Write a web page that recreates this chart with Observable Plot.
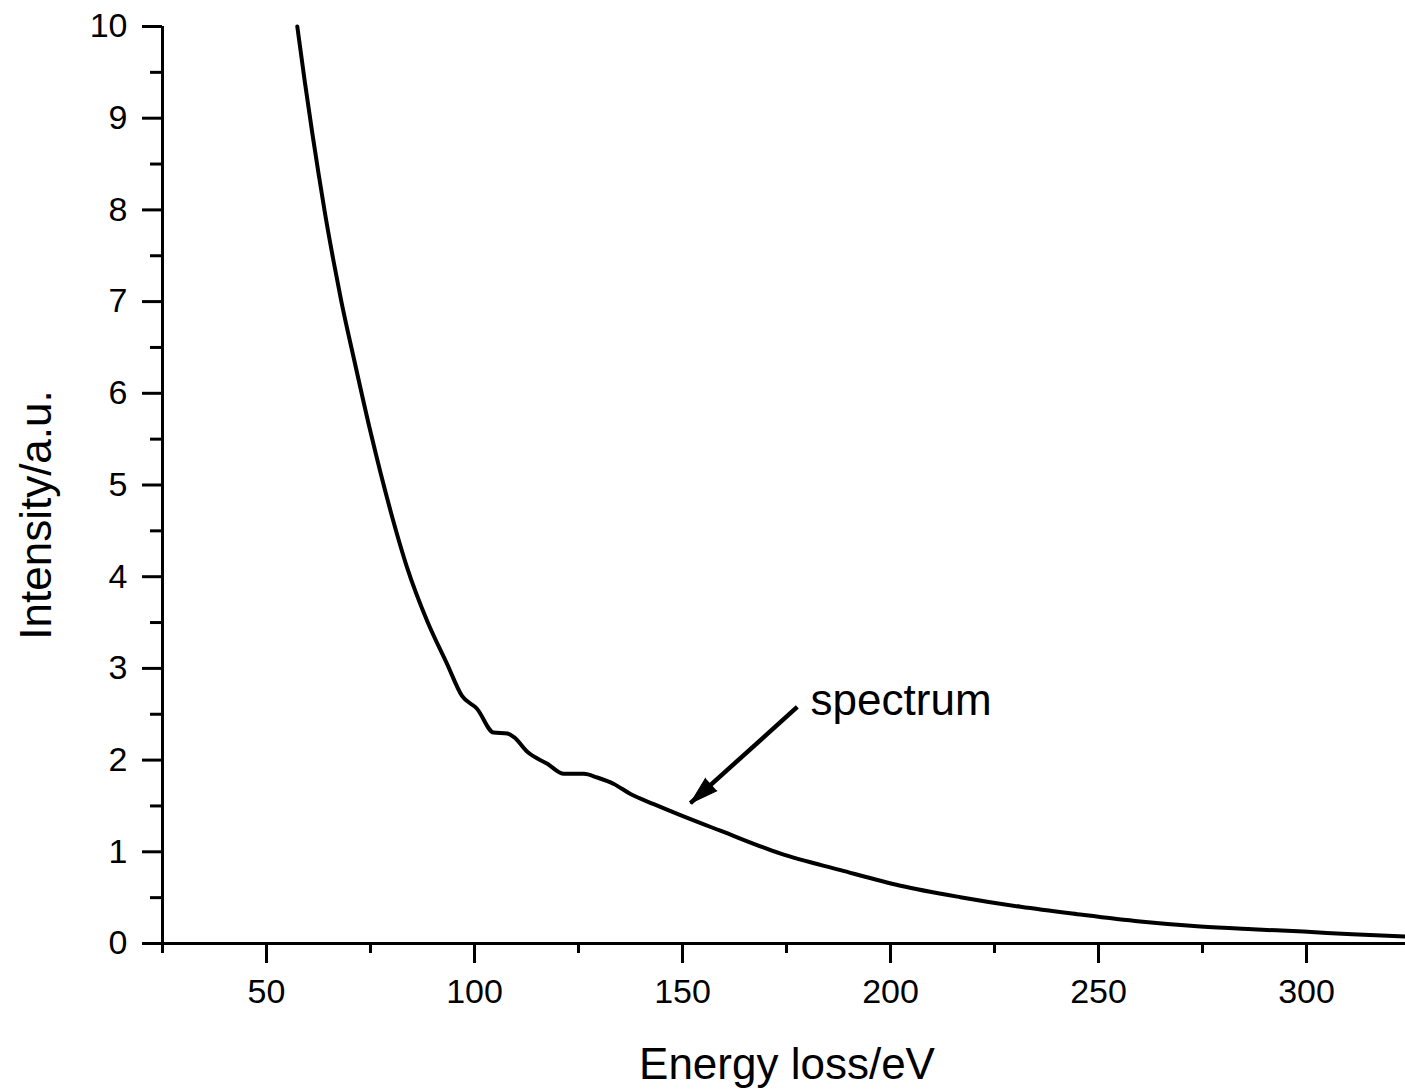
<!DOCTYPE html>
<html>
<head>
<meta charset="utf-8">
<script src="https://cdn.jsdelivr.net/npm/d3@7"></script>
<script src="https://cdn.jsdelivr.net/npm/@observablehq/plot@0.6"></script>
<style>
  html, body { margin: 0; padding: 0; background: #fff; }
  #chart { width: 1405px; height: 1089px; overflow: hidden; }
</style>
</head>
<body>
<div id="chart"></div>
<script>
// Spectrum (energy loss in eV, intensity in a.u.)
const energy = [57.4, 59.2, 61.0, 62.5, 64.0, 66.0, 68.0, 71.0, 75.0, 79.8, 83.8, 88.6, 93.4, 97.0, 100.6, 104.6, 107.9, 109.5, 112.7, 117.5, 121.5, 126.3, 129.5, 133.5, 137.5, 143.1, 149.5, 159.1, 173.6, 188.0, 202.4, 216.8, 231.3, 244.9, 260.0, 274.5, 287.0, 299.3, 311.0, 323.8];
const intensity = [10.0, 9.40, 8.84, 8.40, 7.98, 7.47, 7.00, 6.38, 5.58, 4.72, 4.10, 3.52, 3.05, 2.70, 2.56, 2.30, 2.29, 2.25, 2.09, 1.96, 1.85, 1.85, 1.81, 1.74, 1.63, 1.52, 1.40, 1.23, 0.98, 0.80, 0.63, 0.505, 0.40, 0.32, 0.24, 0.185, 0.155, 0.13, 0.10, 0.076];

const xMajorTicks = [50, 100, 150, 200, 250, 300];
const xMinorTicks = [25, 75, 125, 175, 225, 275];
const yMajorTicks = [0, 1, 2, 3, 4, 5, 6, 7, 8, 9, 10];
const yMinorTicks = [0.5, 1.5, 2.5, 3.5, 4.5, 5.5, 6.5, 7.5, 8.5, 9.5];

const xLabel = "Energy loss/eV";
const yLabel = "Intensity/a.u.";
const annotationText = ["spectrum"];
const annotationTextPos = [180.8, 2.49];
const arrowFrom = [177.6, 2.58];
const arrowTo = [151.9, 1.53];

const data = energy.map((e, i) => ({e, v: intensity[i]}));

const chart = Plot.plot({
  width: 1405,
  height: 1089,
  marginLeft: 162,
  marginRight: 0,
  marginTop: 26,
  marginBottom: 146,
  x: {domain: [25, 323.8]},
  y: {domain: [0, 10]},
  style: {fontFamily: "'Liberation Sans', Arial, sans-serif", fontSize: "34px", color: "black", background: "white"},
  marks: [
    Plot.axisX({ticks: xMajorTicks, tickSize: 20, tickPadding: 15, strokeWidth: 3, label: null, fontSize: 34}),
    Plot.axisX({ticks: xMinorTicks, tickSize: 10, strokeWidth: 3, tickFormat: () => "", label: null}),
    Plot.axisY({ticks: yMajorTicks, tickSize: 20, tickPadding: 15, strokeWidth: 3, label: null, fontSize: 34}),
    Plot.axisY({ticks: yMinorTicks, tickSize: 12, strokeWidth: 3, tickFormat: () => "", label: null}),
    Plot.ruleY([0], {strokeWidth: 3}),
    Plot.ruleX([25], {strokeWidth: 3}),
    Plot.line(data, {x: "e", y: "v", stroke: "black", strokeWidth: 4, curve: "monotone-x"}),
    Plot.link([{x1: arrowFrom[0], y1: arrowFrom[1], x2: arrowTo[0], y2: arrowTo[1]}],
      {x1: "x1", y1: "y1", x2: "x2", y2: "y2", stroke: "black", strokeWidth: 4.5}),
    Plot.vector([{x: arrowTo[0], y: arrowTo[1]}],
      {x: "x", y: "y", shape: "spike", anchor: "end", length: 28, r: 8.5, rotate: 228,
       fill: "black", stroke: "black", strokeWidth: 1}),
    Plot.text(annotationText, {x: () => annotationTextPos[0], y: () => annotationTextPos[1], text: d => d,
      textAnchor: "start", lineAnchor: "bottom", fontSize: 44}),
    Plot.text([xLabel], {frameAnchor: "bottom", text: d => d, textAnchor: "middle", lineAnchor: "bottom", dy: 135, dx: 3, fontSize: 44}),
    Plot.text([yLabel], {frameAnchor: "left", text: d => d, textAnchor: "middle", lineAnchor: "middle", rotate: -90, dx: -126, dy: 30, fontSize: 44})
  ]
});
document.getElementById("chart").appendChild(chart);
</script>
</body>
</html>
